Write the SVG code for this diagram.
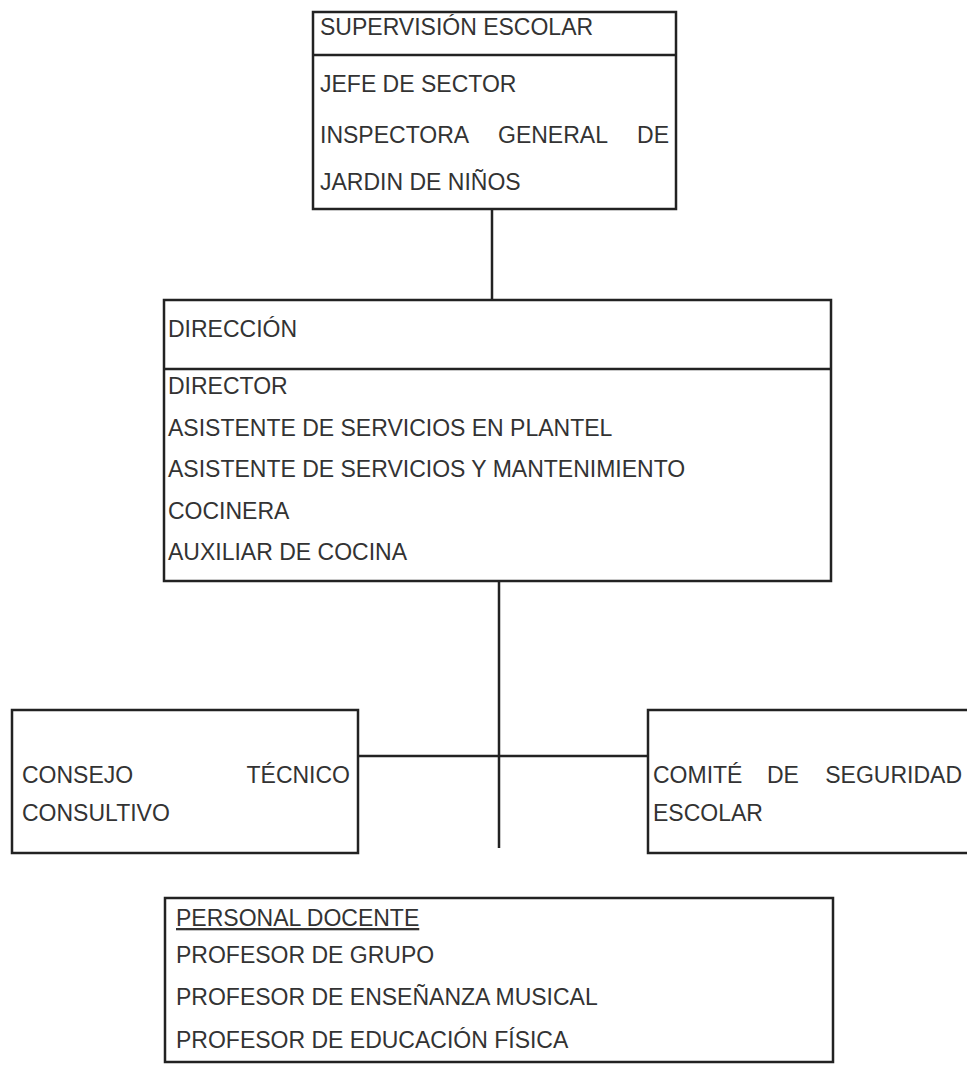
<svg xmlns="http://www.w3.org/2000/svg" width="967" height="1067" viewBox="0 0 967 1067">
<style>
.box{fill:none;stroke:#222;stroke-width:2.5}
.ln{fill:none;stroke:#222;stroke-width:2.5}
text{font-family:"Liberation Sans",Arial,sans-serif;font-size:23px;fill:#333}
</style>
<rect width="967" height="1067" fill="#fff"/>
<g id="connectors">
<line class="ln" x1="492" y1="209" x2="492" y2="300"/>
<line class="ln" x1="499" y1="581" x2="499" y2="848"/>
<line class="ln" x1="358" y1="756" x2="648" y2="756"/>
</g>
<g id="supervision">
<rect class="box" x="313" y="12" width="363" height="197"/>
<line class="ln" x1="313" y1="55" x2="676" y2="55"/>
<text x="320" y="35">SUPERVISIÓN ESCOLAR</text>
<text x="320" y="92">JEFE DE SECTOR</text>
<text x="320" y="143">INSPECTORA</text>
<text x="498" y="143">GENERAL</text>
<text x="669" y="143" text-anchor="end">DE</text>
<text x="320" y="190">JARDIN DE NIÑOS</text>
</g>
<g id="direccion">
<rect class="box" x="164" y="300" width="667" height="281"/>
<line class="ln" x1="164" y1="369" x2="831" y2="369"/>
<text x="168" y="337">DIRECCIÓN</text>
<text x="168" y="394">DIRECTOR</text>
<text x="168" y="436">ASISTENTE DE SERVICIOS EN PLANTEL</text>
<text x="168" y="477">ASISTENTE DE SERVICIOS Y MANTENIMIENTO</text>
<text x="168" y="519">COCINERA</text>
<text x="168" y="560">AUXILIAR DE COCINA</text>
</g>
<g id="consejo">
<rect class="box" x="12" y="710" width="346" height="143"/>
<text x="22" y="783">CONSEJO</text>
<text x="350" y="783" text-anchor="end">TÉCNICO</text>
<text x="22" y="821">CONSULTIVO</text>
</g>
<g id="comite">
<rect class="box" x="648" y="710" width="330" height="143"/>
<text x="653" y="783">COMITÉ</text>
<text x="767" y="783">DE</text>
<text x="962" y="783" text-anchor="end">SEGURIDAD</text>
<text x="653" y="821">ESCOLAR</text>
</g>
<g id="personal">
<rect class="box" x="165" y="898" width="668" height="164"/>
<text x="176" y="926" text-decoration="underline">PERSONAL DOCENTE</text>
<text x="176" y="963">PROFESOR DE GRUPO</text>
<text x="176" y="1005">PROFESOR DE ENSEÑANZA MUSICAL</text>
<text x="176" y="1048">PROFESOR DE EDUCACIÓN FÍSICA</text>
</g>
</svg>
